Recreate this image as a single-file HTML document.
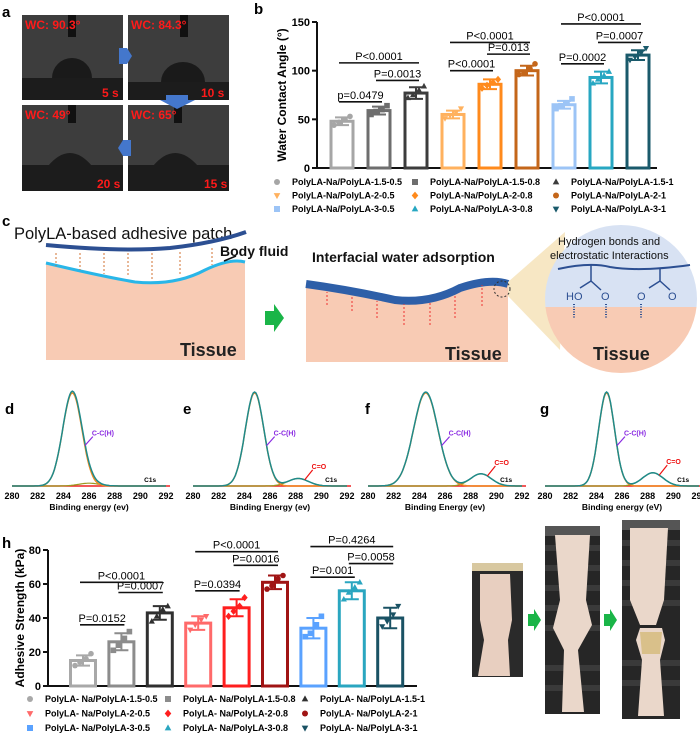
<!DOCTYPE html>
<html><head><meta charset="utf-8">
<style>
html,body{margin:0;padding:0;background:#fff;}
svg{display:block;font-family:"Liberation Sans",Arial,sans-serif;}
.bold{font-weight:bold;}
</style></head>
<body>
<svg id="fig" width="700" height="734" viewBox="0 0 700 734" xmlns="http://www.w3.org/2000/svg">
<defs>
<clipPath id="circClip"><ellipse cx="621" cy="299" rx="76" ry="74"/></clipPath>
</defs>

<!-- Panel a -->
<g>
<text x="2" y="17" font-size="15" class="bold">a</text>
<g>
<rect x="22" y="15" width="101" height="85" fill="#3d3d3d"/>
<rect x="22" y="78" width="101" height="22" fill="#1c1c1c"/>
<rect x="68" y="15" width="8" height="22" fill="#111"/>
<path d="M52 78 A20 20 0 0 1 92 78 Z" fill="#1a1a1a"/>
<text x="25" y="29" font-size="12" fill="#ff1a1a" class="bold">WC: 90.3°</text>
<text x="102" y="97" font-size="12" fill="#ff1a1a" class="bold">5 s</text>
</g>
<g>
<rect x="128" y="15" width="101" height="85" fill="#3d3d3d"/>
<rect x="128" y="82" width="101" height="18" fill="#1c1c1c"/>
<rect x="180" y="15" width="8" height="22" fill="#111"/>
<path d="M161 82 A22 20 0 0 1 205 82 Z" fill="#1a1a1a"/>
<text x="131" y="29" font-size="12" fill="#ff1a1a" class="bold">WC:  84.3°</text>
<text x="201" y="97" font-size="12" fill="#ff1a1a" class="bold">10 s</text>
</g>
<g>
<rect x="22" y="105" width="101" height="86" fill="#3d3d3d"/>
<rect x="22" y="165" width="101" height="26" fill="#1c1c1c"/>
<rect x="68" y="105" width="8" height="18" fill="#111"/>
<path d="M48 166 Q70 140 92 166 Z" fill="#1c1c1c"/>
<text x="25" y="119" font-size="12" fill="#ff1a1a" class="bold">WC: 49°</text>
<text x="97" y="188" font-size="12" fill="#ff1a1a" class="bold">20 s</text>
</g>
<g>
<rect x="128" y="105" width="101" height="86" fill="#3d3d3d"/>
<rect x="128" y="165" width="101" height="26" fill="#1c1c1c"/>
<rect x="174" y="105" width="8" height="18" fill="#111"/>
<path d="M153 166 Q175 140 198 166 Z" fill="#1c1c1c"/>
<text x="131" y="119" font-size="12" fill="#ff1a1a" class="bold">WC: 65°</text>
<text x="204" y="188" font-size="12" fill="#ff1a1a" class="bold">15 s</text>
</g>
<path d="M119 48 L127 48 L132 56 L127 64 L119 64 Z" fill="#4477cc"/>
<path d="M166 95 L188 95 L188 100 L195 100 L177 109 L160 100 L166 100 Z" fill="#4477cc"/>
<path d="M131 140 L123 140 L118 148 L123 156 L131 156 Z" fill="#4477cc"/>
</g>

<text x="254" y="14" font-size="15" class="bold">b</text>
<text x="2" y="226" font-size="15" class="bold">c</text>
<text x="2" y="548" font-size="15" class="bold">h</text>
<text x="668" y="548" font-size="15" class="bold">i</text>

<!-- Panel c -->
<g>
<text x="14" y="239" font-size="16.5" fill="#111">PolyLA-based adhesive patch</text>
<path d="M46 263 Q100 276 135 282 Q175 286 205 270 Q230 258 245 262 L245 360 L46 360 Z" fill="#f8cbb4"/>
<path d="M46 263 Q100 276 135 282 Q175 286 205 270 Q230 258 245 262" fill="none" stroke="#29b6e8" stroke-width="3"/>
<path d="M46 245 Q120 252 170 248 Q215 243 246 232" fill="none" stroke="#2c4f92" stroke-width="4"/>
<g stroke="#d07030" stroke-width="1" stroke-dasharray="2,2">
<line x1="56" y1="253" x2="56" y2="266"/><line x1="80" y1="253" x2="80" y2="270"/><line x1="104" y1="253" x2="104" y2="274"/><line x1="128" y1="253" x2="128" y2="277"/><line x1="152" y1="253" x2="152" y2="279"/><line x1="180" y1="252" x2="180" y2="276"/><line x1="212" y1="248" x2="212" y2="265"/>
</g>
<text x="220" y="256" font-size="14" font-weight="bold" fill="#111">Body fluid</text>
<line x1="224" y1="261" x2="236" y2="256" stroke="#111" stroke-width="1.5"/>
<text x="180" y="356" font-size="18" class="bold" fill="#222">Tissue</text>
<path d="M265 311 L274 311 L274 304 L284 318 L274 332 L274 325 L265 325 Z" fill="#1ab548"/>
<text x="312" y="262" font-size="14" font-weight="bold" fill="#111">Interfacial water adsorption</text>
<path d="M306 284 Q350 290 395 300 Q430 304 460 288 Q490 278 508 284 L508 362 L306 362 Z" fill="#f8cbb4"/>
<path d="M306 284 Q350 290 395 300 Q430 304 460 288 Q490 278 508 284" fill="none" stroke="#2e5fa8" stroke-width="8"/>
<g stroke="#ee3030" stroke-width="1" stroke-dasharray="2,2">
<line x1="327" y1="305" x2="327" y2="292"/><line x1="352" y1="311" x2="352" y2="296"/><line x1="377" y1="318" x2="377" y2="301"/><line x1="404" y1="325" x2="404" y2="304"/><line x1="430" y1="325" x2="430" y2="303"/><line x1="455" y1="318" x2="455" y2="294"/><line x1="482" y1="306" x2="482" y2="285"/>
</g>
<text x="445" y="360" font-size="18" class="bold" fill="#222">Tissue</text>
<path d="M508 282 L565 232 L560 350 L508 296 Z" fill="#f7e7c4"/>
<ellipse cx="502" cy="289" rx="8" ry="8" fill="none" stroke="#333" stroke-dasharray="2,2"/>
<g clip-path="url(#circClip)">
<rect x="540" y="220" width="165" height="87" fill="#d8e2f3"/>
<rect x="540" y="307" width="165" height="70" fill="#f8cbb4"/>
</g>
<text x="558" y="245" font-size="11" fill="#111">Hydrogen bonds and</text>
<text x="550" y="259" font-size="11" fill="#111">electrostatic Interactions</text>
<path d="M558 269 Q590 262 610 267 Q640 272 690 265" fill="none" stroke="#2c4f92" stroke-width="2"/>
<g stroke="#2c4f92" stroke-width="1.5" fill="none"><line x1="591" y1="265" x2="591" y2="281"/><line x1="591" y1="281" x2="580" y2="288"/><line x1="591" y1="281" x2="601" y2="290"/><line x1="660" y1="268" x2="660" y2="281"/><line x1="660" y1="281" x2="649" y2="288"/><line x1="660" y1="281" x2="670" y2="290"/></g>
<text x="566" y="300" font-size="11" fill="#2c4f92">HO</text><text x="601" y="300" font-size="11" fill="#2c4f92">O</text>
<text x="637" y="300" font-size="11" fill="#2c4f92">O</text><text x="668" y="300" font-size="11" fill="#2c4f92">O</text>
<g stroke="#2c4f92" stroke-width="2" stroke-dasharray="1,1.5"><line x1="574" y1="304" x2="574" y2="318"/><line x1="606" y1="304" x2="606" y2="318"/><line x1="641" y1="304" x2="641" y2="318"/></g>
<text x="593" y="360" font-size="18" class="bold" fill="#222">Tissue</text>
</g>

<!-- Panel i -->
<g>
<g>
<rect x="472" y="563" width="51" height="114" fill="#2a2a2a"/>
<rect x="472" y="563" width="51" height="8" fill="#d8c8a0"/>
<path d="M480 574 L510 574 L512 620 L508 640 L510 676 L478 676 L484 640 L480 620 Z" fill="#e8cfc0"/>
</g>
<path d="M528 614 L534 614 L534 609 L541 620 L534 631 L534 626 L528 626 Z" fill="#1ab548"/>
<g>
<rect x="545" y="526" width="55" height="188" fill="#262626"/>
<g fill="#3a3a3a"><rect x="545" y="545" width="55" height="6"/><rect x="545" y="565" width="55" height="6"/><rect x="545" y="585" width="55" height="6"/><rect x="545" y="605" width="55" height="6"/><rect x="545" y="625" width="55" height="6"/><rect x="545" y="665" width="55" height="6"/><rect x="545" y="685" width="55" height="6"/></g>
<rect x="545" y="526" width="55" height="10" fill="#555"/>
<path d="M555 535 L590 535 L586 600 L592 625 L578 650 L584 712 L562 712 L564 650 L553 628 L560 600 Z" fill="#ead7ca"/>
</g>
<path d="M604 614 L610 614 L610 609 L617 620 L610 631 L610 626 L604 626 Z" fill="#1ab548"/>
<g>
<rect x="622" y="520" width="58" height="199" fill="#262626"/>
<g fill="#3a3a3a"><rect x="622" y="540" width="58" height="6"/><rect x="622" y="560" width="58" height="6"/><rect x="622" y="580" width="58" height="6"/><rect x="622" y="600" width="58" height="6"/><rect x="622" y="660" width="58" height="6"/><rect x="622" y="680" width="58" height="6"/></g>
<rect x="622" y="520" width="58" height="10" fill="#555"/>
<path d="M630 528 L668 528 L664 600 L656 625 L640 625 L630 600 Z" fill="#ead7ca"/>
<path d="M640 628 L662 628 L665 640 L660 660 L664 716 L638 716 L642 660 L636 640 Z" fill="#ead7ca"/>
<path d="M640 632 L662 632 L660 654 L642 654 Z" fill="#d9c08a"/>
</g>
</g>

<g id="plots"></g>
</svg>

<script>
// ===== Panel b data =====
const bCategories = ["1.5-0.5","1.5-0.8","1.5-1","2-0.5","2-0.8","2-1","3-0.5","3-0.8","3-1"];
const bMeans = [48, 59, 77, 55, 86, 100, 65, 93, 116];
const bSD = [4, 4, 6, 4, 5, 5, 4, 6, 5];
const bPoints = [[44,47,50,53],[55,58,60,64],[72,75,80,84],[51,54,57,61],[82,85,88,91],[96,98,102,107],[61,64,67,71],[87,91,95,99],[111,114,118,123]];
const bTicks = [0, 50, 100, 150];
const bBracketFrom = [0,1,0,3,4,3,6,7,6];
const bBracketTo = [1,2,2,4,5,5,7,8,8];
const bBracketLevel = [68, 90, 108, 100, 117, 129, 107, 129, 148];
const bBracketText = ["p=0.0479","P=0.0013","P<0.0001","P<0.0001","P=0.013","P<0.0001","P=0.0002","P=0.0007","P<0.0001"];
const bLegend = ["PolyLA-Na/PolyLA-1.5-0.5","PolyLA-Na/PolyLA-1.5-0.8","PolyLA-Na/PolyLA-1.5-1","PolyLA-Na/PolyLA-2-0.5","PolyLA-Na/PolyLA-2-0.8","PolyLA-Na/PolyLA-2-1","PolyLA-Na/PolyLA-3-0.5","PolyLA-Na/PolyLA-3-0.8","PolyLA-Na/PolyLA-3-1"];

// ===== Panel h data =====
const hMeans = [15, 26, 43, 37, 46, 61, 34, 56, 40];
const hSD = [3, 5, 4, 4, 5, 4, 6, 5, 6];
const hPoints = [[12,14,16,19],[21,24,28,32],[38,41,45,47],[33,36,39,41],[41,44,47,52],[57,59,63,65],[29,31,36,41],[51,55,58,61],[35,38,42,47]];
const hTicks = [0, 20, 40, 60, 80];
const hBracketFrom = [0,1,0,3,4,3,6,7,6];
const hBracketTo = [1,2,2,4,5,5,7,8,8];
const hBracketLevel = [36, 55, 61, 56, 71, 79, 64, 72, 82];
const hBracketText = ["P=0.0152","P=0.0007","P<0.0001","P=0.0394","P=0.0016","P<0.0001","P=0.001","P=0.0058","P=0.4264"];
const hLegend = ["PolyLA- Na/PolyLA-1.5-0.5","PolyLA- Na/PolyLA-1.5-0.8","PolyLA- Na/PolyLA-1.5-1","PolyLA- Na/PolyLA-2-0.5","PolyLA- Na/PolyLA-2-0.8","PolyLA- Na/PolyLA-2-1","PolyLA- Na/PolyLA-3-0.5","PolyLA- Na/PolyLA-3-0.8","PolyLA- Na/PolyLA-3-1"];

// ===== XPS data (d-g): component peaks =====
const xpsPanels = ["d","e","f","g"];
const xpsMainCenter = [284.7, 284.8, 284.5, 284.8];
const xpsMainWidth = [0.75, 0.72, 0.95, 0.62];
const xpsCOCenter = [286.0, 288.2, 288.8, 288.4];
const xpsCOHeight = [0.03, 0.08, 0.13, 0.14];
const xpsTicks = [280, 282, 284, 286, 288, 290, 292];
const xpsXLabels = ["Binding energy (ev)","Binding Energy (ev)","Binding Energy (ev)","Binding energy (eV)"];

const NS = "http://www.w3.org/2000/svg";
const root = document.getElementById("plots");
function mk(tag, attrs, parent) {
  const e = document.createElementNS(NS, tag);
  for (const k in attrs) e.setAttribute(k, attrs[k]);
  (parent || root).appendChild(e);
  return e;
}
function txt(x, y, s, attrs, parent) {
  const e = mk("text", Object.assign({x: x, y: y}, attrs), parent);
  e.textContent = s;
  return e;
}
function marker(g, shape, x, y, r, color) {
  let e;
  if (shape === "circle") e = mk("circle", {cx: x, cy: y, r: r, fill: color}, g);
  else if (shape === "square") e = mk("rect", {x: x - r, y: y - r, width: 2 * r, height: 2 * r, fill: color}, g);
  else if (shape === "up") e = mk("path", {d: `M${x} ${y - r * 1.2} L${x + r * 1.1} ${y + r * 0.8} L${x - r * 1.1} ${y + r * 0.8} Z`, fill: color}, g);
  else if (shape === "down") e = mk("path", {d: `M${x} ${y + r * 1.2} L${x + r * 1.1} ${y - r * 0.8} L${x - r * 1.1} ${y - r * 0.8} Z`, fill: color}, g);
  else e = mk("path", {d: `M${x} ${y - r * 1.3} L${x + r * 1.1} ${y} L${x} ${y + r * 1.3} L${x - r * 1.1} ${y} Z`, fill: color}, g);
  return e;
}

function barChart(cfg) {
  const g = mk("g", {});
  
  
  const y = v => cfg.y0 - v * (cfg.y0 - cfg.yTop) / cfg.max;
  const x = i => cfg.x0 + i * cfg.step;
  const ax = mk("path", {d: `M${cfg.axX} ${cfg.yTop} L${cfg.axX} ${cfg.y0} L${cfg.axEnd} ${cfg.y0}`, stroke: "#111", "stroke-width": 2, fill: "none"}, g);
  
  
  cfg.ticks.forEach(t => {
    mk("line", {x1: cfg.axX - 5, x2: cfg.axX, y1: y(t), y2: y(t), stroke: "#111", "stroke-width": 2}, g);
    const tl = txt(cfg.axX - 7, y(t) + 4, String(t), {"font-size": 11, "font-weight": "bold", "text-anchor": "end"}, g);
    
    
  });
  const yt = txt(0, 0, cfg.yTitle, {"font-size": 12, "font-weight": "bold", "text-anchor": "middle", transform: `translate(${cfg.titleX},${(cfg.yTop + cfg.y0) / 2}) rotate(-90)`}, g);
  
  
  cfg.means.forEach((m, i) => {
    const c = cfg.colors[i];
    const b = mk("rect", {x: x(i) - cfg.bw / 2, y: y(m), width: cfg.bw, height: cfg.y0 - y(m), fill: "#fff", stroke: c, "stroke-width": 3}, g);
    
    
    const sd = cfg.sd[i];
    const eb = mk("path", {d: `M${x(i)} ${y(m + sd)} L${x(i)} ${y(m - sd)} M${x(i) - 7} ${y(m + sd)} L${x(i) + 7} ${y(m + sd)} M${x(i) - 7} ${y(m - sd)} L${x(i) + 7} ${y(m - sd)} M${x(i) - 10} ${y(m)} L${x(i) + 10} ${y(m)}`, stroke: c, "stroke-width": 2, fill: "none"}, g);
    
    
    const offs = [-8, -3, 3, 8];
    cfg.points[i].forEach((p, k) => {
      const mp = marker(g, cfg.shapes[i], x(i) + offs[k], y(p), 2.8, c);
      
      
    });
  });
  cfg.bf.forEach((a, k) => {
    const b = cfg.bt[k];
    const ly = y(cfg.bl[k]);
    const bl = mk("line", {x1: x(a) - 3, x2: x(b) + 3, y1: ly, y2: ly, stroke: "#111", "stroke-width": 1.6}, g);
    
    
    const bt = txt((x(a) + x(b)) / 2, ly - 3, cfg.btxt[k], {"font-size": 11, "text-anchor": "middle"}, g);
    
    
  });
  cfg.legend.forEach((s, i) => {
    const col = i % 3, row = Math.floor(i / 3);
    const lx = cfg.legX[col], ly = cfg.legY + row * cfg.legDy;
    const lm = marker(g, cfg.shapes[i], lx, ly - 3, 3, cfg.colors[i]);
    
    
    const lt = txt(lx + 15, ly, s, {"font-size": 9, "font-weight": "bold"}, g);
    
    
  });
}

const shapes = ["circle","square","up","down","diamond","circle","square","up","down"];
barChart({name: "panel-b-chart", x0: 342, step: 37, bw: 22, axX: 317, axEnd: 657, y0: 168, yTop: 22, max: 150,
  ticks: bTicks, yTitle: "Water Contact Angle (°)", titleX: 286,
  means: bMeans, sd: bSD, points: bPoints,
  colors: ["#a6a6a6","#6e6e6e","#3c3c3c","#ffb15e","#ff8a1c","#c4661a","#9cc4f6","#27a7c2","#1a5a6b"],
  shapes: shapes,
  bf: bBracketFrom, bt: bBracketTo, bl: bBracketLevel, btxt: bBracketText,
  legend: bLegend, legX: [277, 415, 556], legY: 185, legDy: 13.5});

barChart({name: "panel-h-chart", x0: 83, step: 38.4, bw: 25, axX: 48, axEnd: 417, y0: 686, yTop: 550, max: 80,
  ticks: hTicks, yTitle: "Adhesive Strength (kPa)", titleX: 24,
  means: hMeans, sd: hSD, points: hPoints,
  colors: ["#a8a8a8","#8c8c8c","#303030","#ff6a6a","#ff1e1e","#a01414","#5aa2ff","#2aa6c0","#1a5264"],
  shapes: shapes,
  bf: hBracketFrom, bt: hBracketTo, bl: hBracketLevel, btxt: hBracketText,
  legend: hLegend, legX: [30, 168, 305], legY: 702, legDy: 14.5});

// XPS panels
const xpsX0 = [12, 193, 368, 545];
const xpsLabelX = [5, 183, 365, 540];
const xpsW = 154, xpsBase = 486, xpsH = 94;
xpsPanels.forEach((p, i) => {
  const g = mk("g", {});
  
  
  const X = e => xpsX0[i] + (e - 280) / 12 * xpsW;
  const Y = v => xpsBase - v * xpsH;
  const lab = txt(xpsLabelX[i], 414, p, {"font-size": 15, "font-weight": "bold"}, g);
  
  
  const main = e => Math.exp(-0.5 * Math.pow((e - xpsMainCenter[i]) / xpsMainWidth[i], 2));
  const co = e => xpsCOHeight[i] * Math.exp(-0.5 * Math.pow((e - xpsCOCenter[i]) / 0.8, 2));
  let dSum = "", dMain = "", dCO = "";
  for (let e = 280; e <= 292.001; e += 0.1) {
    const cmd = e === 280 ? "M" : "L";
    dSum += `${cmd}${X(e).toFixed(1)} ${Y(main(e) + co(e)).toFixed(1)} `;
    dMain += `${cmd}${X(e).toFixed(1)} ${Y(main(e) * 0.99).toFixed(1)} `;
    dCO += `${cmd}${X(e).toFixed(1)} ${Y(co(e)).toFixed(1)} `;
  }
  mk("line", {x1: X(280), x2: X(292) + 4, y1: xpsBase, y2: xpsBase, stroke: "#ee2222", "stroke-width": 1.5}, g);
  mk("path", {d: dCO, stroke: "#9a9a20", "stroke-width": 1.2, fill: "none"}, g);
  mk("path", {d: dMain, stroke: "#f08a20", "stroke-width": 1.4, fill: "none"}, g);
  const sp = mk("path", {d: dSum, stroke: "#1f8a8a", "stroke-width": 1.5, fill: "none"}, g);
  
  
  xpsTicks.forEach(t => {
    const tl = txt(X(t), 499, String(t), {"font-size": 9, "font-weight": "bold", "text-anchor": "middle"}, g);
    
    
  });
  const xl = txt(X(286), 510, xpsXLabels[i], {"font-size": 8.5, "font-weight": "bold", "text-anchor": "middle"}, g);
  
  
  const ax = X(xpsMainCenter[i] + xpsMainWidth[i] * 1.3), ay = Y(main(xpsMainCenter[i] + xpsMainWidth[i] * 1.3));
  mk("line", {x1: ax, y1: ay, x2: ax + 8, y2: ay - 9, stroke: "#8a2be2", "stroke-width": 1.2}, g);
  const cl = txt(ax + 7, ay - 10, "C-C(H)", {"font-size": 7, "font-weight": "bold", fill: "#8a2be2"}, g);
  
  
  if (i > 0) {
    const cx = X(xpsCOCenter[i] + 0.5), cy = Y(co(xpsCOCenter[i] + 0.5));
    mk("line", {x1: cx, y1: cy, x2: cx + 8, y2: cy - 10, stroke: "#ee1111", "stroke-width": 1.2}, g);
    const co2 = txt(cx + 7, cy - 11, "C=O", {"font-size": 7, "font-weight": "bold", fill: "#ee1111"}, g);
    
    
  }
  const c1 = txt(X(290.3), 482, "C1s", {"font-size": 6.5, "font-weight": "bold"}, g);
  
  
});
</script>
</body></html>
